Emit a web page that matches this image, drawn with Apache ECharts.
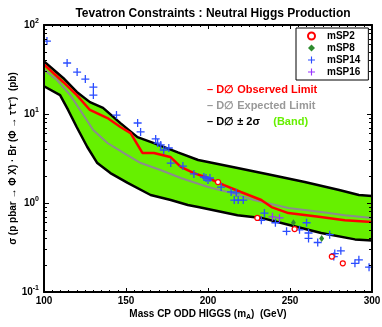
<!DOCTYPE html>
<html>
<head>
<meta charset="utf-8">
<script src="https://cdn.jsdelivr.net/npm/echarts@6/dist/echarts.min.js"></script>
<style>
html, body { margin: 0; padding: 0; background: #fff; }
#main { width: 382px; height: 327px; }
</style>
</head>
<body>
<div id="main"></div>
<script>
// band edges (+/- 2 sigma), [mA, sigma*Br]
var bandUpper = [[100, 39], [111.7, 25.4], [120, 17.7], [128, 13.6], [136, 11.7], [146.6, 7.9], [157, 5.5],
    [167, 4.7], [181.6, 3.7], [194, 3.04], [218, 2.47], [238.7, 2.06], [259, 1.72], [280, 1.40], [292, 1.23], [300, 1.2]];
var bandLower = [[100, 20.5], [109.8, 16.3], [114.7, 11.1], [120, 7.1], [126.4, 4.26], [132.5, 2.81], [140.5, 2.17],
    [151, 1.68], [165, 1.23], [177.3, 1.08], [187.7, 0.95], [194, 0.90], [218, 0.73], [232.5, 0.68], [249, 0.57],
    [269, 0.46], [289.6, 0.39], [300, 0.38]];
var observed = [[100, 36], [111.7, 22.9], [120, 16.3], [128, 11.1], [138.7, 9.0], [146.6, 7.15], [152.8, 6.1],
    [160, 3.65], [167, 3.65], [177, 3.29], [183.4, 2.54], [191.4, 2.17], [200, 1.91], [209.8, 1.59], [220, 1.33],
    [232.5, 1.08], [238.7, 0.90], [249, 0.77], [267.5, 0.70], [283.4, 0.64], [300, 0.61]];
var expected = [[100, 31.5], [107.9, 24.1], [116, 16.3], [122, 11.1], [130, 6.6], [138.7, 4.72], [148.5, 3.65],
    [159, 2.81], [171, 2.35], [183.4, 1.91], [200, 1.51], [214, 1.30], [228, 1.08], [249, 0.88], [269, 0.79],
    [283.4, 0.73], [300, 0.68]];

// benchmark points
var mSP2 = [[206.1, 1.72], [230.1, 0.68], [252.8, 0.51], [275.5, 0.25], [282.2, 0.21]];
var mSP8 = [[252.1, 0.60], [269.3, 0.40]];
var mSP14 = [[101.8, 66], [114.1, 37.4], [120.2, 29.6], [125.2, 24.7], [130.1, 20.1], [130.1, 16.3], [144.2, 9.74],
    [157.1, 7.92], [158.9, 6.28], [168.1, 5.24], [169.3, 4.72], [171.2, 4.49], [173, 3.94], [176.1, 4.15],
    [177.3, 2.81], [184.7, 2.60], [191.4, 2.12], [197.5, 1.96], [198.8, 1.91], [200, 1.81], [201.2, 1.91],
    [208, 1.51], [214.1, 1.33], [217.2, 1.30], [216, 1.08], [218.4, 1.08], [221.5, 1.08], [234.4, 0.77],
    [232.5, 0.64], [241.1, 0.60], [247.9, 0.48], [255.8, 0.50], [260.1, 0.60], [261.3, 0.46], [261.3, 0.40],
    [266.9, 0.36], [274.2, 0.44], [276.7, 0.25], [277.3, 0.27], [281, 0.29], [289.6, 0.21], [292, 0.23], [298.2, 0.19]];
var mSP16 = [[239.3, 0.70], [243.6, 0.68]];

var xTicks = [100, 150, 200, 250, 300];

var GREEN = '#66f000';
var plus = 'path://M4.2,0H5.8V4.2H10V5.8H5.8V10H4.2V5.8H0V4.2H4.2Z';
var font = '"Liberation Sans", Arial, sans-serif';

var myChart = echarts.init(document.getElementById('main'));

function powLabel(v) {
    var e = Math.round(Math.log(v) / Math.LN10);
    return '{b|10}{s|' + e + '}';
}

var option = {
    animation: false,
    backgroundColor: '#fff',
    textStyle: { fontFamily: font },
    title: {
        text: 'Tevatron Constraints : Neutral Higgs Production',
        left: 208, top: 3, textAlign: 'center',
        textStyle: { fontSize: 12, fontWeight: 'bold', color: '#000', fontFamily: font }
    },
    grid: { left: 44, right: 10, top: 25, bottom: 35, containLabel: false, outerBoundsMode: 'none' },
    legend: {
        orient: 'vertical',
        left: 296, top: 28,
        padding: [3, 8, 3, 11],
        itemGap: 2,
        itemWidth: 7, itemHeight: 7,
        borderColor: '#000', borderWidth: 1,
        backgroundColor: '#fff',
        data: ['mSP2', 'mSP8', 'mSP14', 'mSP16'],
        textStyle: { fontSize: 10, fontWeight: 'bold', color: '#000', padding: [0, 0, 0, 7], fontFamily: font }
    },
    xAxis: [{
        type: 'value', min: 100, max: 300, interval: 50, z: 10,
        name: 'Mass CP ODD HIGGS (m{sub|A})  (GeV)',
        nameLocation: 'middle', nameGap: 16, nameMoveOverlap: false,
        nameTextStyle: {
            fontSize: 10, fontWeight: 'bold', color: '#000',
            rich: { sub: { fontSize: 7, fontWeight: 'bold', padding: [6, 0, 0, 0] } }
        },
        axisLine: { lineStyle: { color: '#000', width: 2 } },
        axisTick: { inside: true, length: 4, lineStyle: { color: '#000' } },
        minorTick: { show: true, splitNumber: 10, length: 2, lineStyle: { color: '#000' } },
        axisLabel: { fontSize: 10, fontWeight: 'bold', color: '#000', margin: 4, customValues: xTicks },
        splitLine: { show: false }
    }, {
        type: 'value', min: 100, max: 300, interval: 50, position: 'top', z: 10,
        axisLine: { lineStyle: { color: '#000', width: 2 } },
        axisTick: { inside: true, length: 4, lineStyle: { color: '#000' } },
        minorTick: { show: true, splitNumber: 10, length: 2, lineStyle: { color: '#000' } },
        axisLabel: { show: false },
        splitLine: { show: false }
    }],
    yAxis: [{
        type: 'log', logBase: 10, min: 0.1, max: 100, z: 10,
        name: 'σ (p pbar → Φ X) · Br (Φ → τ⁺τ⁻)  (pb)',
        nameLocation: 'middle', nameGap: 26, nameMoveOverlap: false,
        nameTextStyle: { fontSize: 10, fontWeight: 'bold', color: '#000' },
        axisLine: { show: true, lineStyle: { color: '#000', width: 2 } },
        axisTick: { inside: true, length: 5, lineStyle: { color: '#000' } },
        minorTick: { show: true, splitNumber: 9, length: 3, lineStyle: { color: '#000' } },
        axisLabel: {
            formatter: powLabel, margin: 5,
            rich: {
                b: { fontSize: 10, fontWeight: 'bold', color: '#000' },
                s: { fontSize: 7, fontWeight: 'bold', color: '#000', padding: [0, 0, 7, 0] }
            }
        },
        splitLine: { show: false }
    }, {
        type: 'log', logBase: 10, min: 0.1, max: 100, position: 'right', z: 10,
        axisLine: { show: true, lineStyle: { color: '#000', width: 2 } },
        axisTick: { inside: true, length: 5, lineStyle: { color: '#000' } },
        minorTick: { show: true, splitNumber: 9, length: 3, lineStyle: { color: '#000' } },
        axisLabel: { show: false },
        splitLine: { show: false }
    }],
    graphic: [
        { type: 'text', left: 207, top: 84, style: { text: '– D∅ Observed Limit', fill: '#ff0000', font: 'bold 11px ' + font } },
        { type: 'text', left: 207, top: 100, style: { text: '– D∅ Expected Limit', fill: '#999999', font: 'bold 11px ' + font } },
        {
            type: 'text', left: 207, top: 116,
            style: {
                text: '{k|– D∅ ± 2σ}    {g|(Band)}',
                rich: {
                    k: { fill: '#000', font: 'bold 11px ' + font },
                    g: { fill: GREEN, font: 'bold 11px ' + font }
                }
            }
        },
        { type: 'text', left: 60, top: 243, style: { text: 'mSUGRA μ > 0', fill: '#000', font: 'bold 11px ' + font } }
    ],
    series: [
        {
            name: 'upper', type: 'line', data: bandUpper, symbol: 'none', z: 2,
            lineStyle: { color: '#000', width: 2.5 },
            areaStyle: { color: GREEN, opacity: 1, origin: 'start' }
        },
        {
            name: 'lower', type: 'line', data: bandLower, symbol: 'none', z: 3,
            lineStyle: { color: '#000', width: 2.5 },
            areaStyle: { color: '#fff', opacity: 1, origin: 'start' }
        },
        {
            name: 'expected', type: 'line', data: expected, symbol: 'none', z: 4,
            lineStyle: { color: '#8c8c8c', width: 2 }
        },
        {
            name: 'observed', type: 'line', data: observed, symbol: 'none', z: 5,
            lineStyle: { color: '#ff0000', width: 2.5 }
        },
        {
            name: 'mSP14', type: 'scatter', data: mSP14, symbol: plus, symbolSize: 8, z: 6,
            itemStyle: { color: '#2a4cff', opacity: 1 }
        },
        {
            name: 'mSP16', type: 'scatter', data: mSP16, symbol: plus, symbolSize: 8, z: 6,
            itemStyle: { color: '#9933ff', opacity: 1 }
        },
        {
            name: 'mSP8', type: 'scatter', data: mSP8, symbol: 'diamond', symbolSize: [5, 7], z: 6,
            itemStyle: { color: '#2e8b2e', opacity: 1 }
        },
        {
            name: 'mSP2', type: 'scatter', data: mSP2, symbol: 'circle', symbolSize: 5, z: 7,
            itemStyle: { color: '#fff', borderColor: '#ff0000', borderWidth: 1.2, opacity: 1 }
        }
    ]
};
myChart.setOption(option);
</script>
</body>
</html>
